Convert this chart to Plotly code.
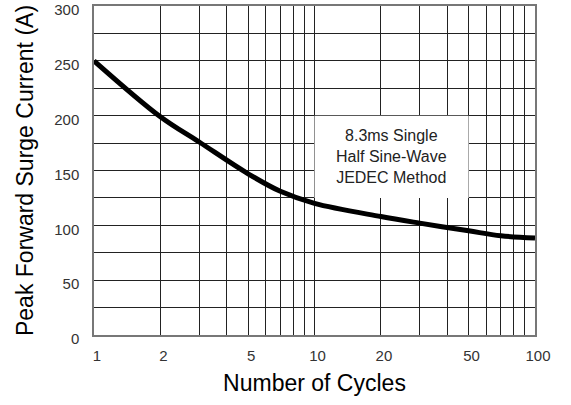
import numpy as np
import plotly.graph_objects as go

# Surge current vs. number of cycles
cycles = [1, 2, 3, 5, 7, 10, 20, 30, 50, 70, 100]
current = [250, 199, 176, 147, 131, 120, 108, 102, 95, 90.5, 88.5]

# Log-paper grid: every integer within each decade, only some labelled
x_grid = [1, 2, 3, 4, 5, 6, 7, 8, 9, 10, 20, 30, 40, 50, 60, 70, 80, 90, 100]
x_labels = ["1", "2", "", "", "5", "", "", "", "", "10",
            "20", "", "", "50", "", "", "", "", "100"]
y_ticks = [0, 50, 100, 150, 200, 250, 300]
y_grid_step = 25

note_lines = ["8.3ms Single", "Half Sine-Wave", "JEDEC Method"]
note_x = [10, 50]
note_y = [125, 200]

FONT = "Liberation Sans, Arial, sans-serif"
GRID = "#222222"

fig = go.Figure()
fig.add_trace(go.Scatter(
    x=cycles, y=current, mode="lines",
    line=dict(color="black", width=5, shape="spline", smoothing=1.0),
    hoverinfo="skip", showlegend=False,
))

# White label box that hides the grid behind the note
fig.add_shape(type="rect", xref="x", yref="y",
              x0=note_x[0], x1=note_x[1], y0=note_y[0], y1=note_y[1],
              fillcolor="white", line=dict(width=0), layer="above")
fig.add_annotation(
    xref="x", yref="y",
    x=np.log10(np.sqrt(note_x[0] * note_x[1])), y=sum(note_y) / 2,
    text="<br>".join(note_lines), showarrow=False,
    font=dict(family=FONT, size=16, color="#222"), align="center",
)

fig.update_xaxes(
    type="log", range=[0, 2], automargin=False,
    tickmode="array", tickvals=x_grid, ticktext=x_labels,
    showgrid=True, gridcolor=GRID, gridwidth=1,
    showline=True, linecolor="#777", linewidth=1.5, mirror=True,
    ticks="", ticklabelstandoff=6, ticklabelshift=3,
    tickfont=dict(family=FONT, size=15, color="#333"),
    title=dict(text="Number of Cycles", standoff=12,
               font=dict(family=FONT, size=23, color="black")),
    zeroline=False,
)
fig.update_yaxes(
    range=[0, 300], automargin=False,
    tickmode="array", tickvals=y_ticks,
    minor=dict(dtick=y_grid_step, showgrid=True, gridcolor=GRID, gridwidth=1),
    showgrid=True, gridcolor=GRID, gridwidth=1,
    showline=True, linecolor="#777", linewidth=1.5, mirror=True,
    ticks="", ticklabelstandoff=10, ticklabelshift=4,
    ticklabeloverflow="allow",
    tickfont=dict(family=FONT, size=15, color="#333"),
    title=dict(text="Peak Forward Surge Current (A)", standoff=14,
               font=dict(family=FONT, size=23, color="black")),
    zeroline=False,
)

fig.update_layout(
    width=571, height=405,
    margin=dict(l=94, r=36, t=6, b=70, autoexpand=False),
    paper_bgcolor="white", plot_bgcolor="white",
)

fig.write_html("out.html")
